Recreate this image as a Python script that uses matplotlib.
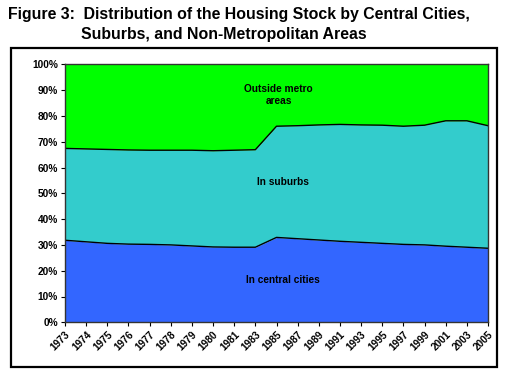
import numpy as np
import matplotlib
matplotlib.use("Agg")
import matplotlib.pyplot as plt
from matplotlib.patches import Rectangle

plt.rcParams['font.family'] = ['Liberation Sans', 'DejaVu Sans']

years = ['1973', '1974', '1975', '1976', '1977', '1978', '1979', '1980', '1981', '1983',
         '1985', '1987', '1989', '1991', '1993', '1995', '1997', '1999', '2001', '2003', '2005']
# share of housing stock, percent
central_cities = [31.8, 31.2, 30.6, 30.3, 30.2, 30.0, 29.6, 29.2, 29.1, 29.1,
                  32.9, 32.4, 31.9, 31.4, 31.0, 30.6, 30.2, 30.0, 29.5, 29.1, 28.7]
suburbs = [35.6, 36.0, 36.4, 36.5, 36.5, 36.7, 37.1, 37.3, 37.6, 37.8,
           43.1, 43.8, 44.6, 45.3, 45.5, 45.8, 45.8, 46.4, 48.6, 49.0, 47.5]
outside_metro = [32.6, 32.8, 33.0, 33.2, 33.3, 33.3, 33.3, 33.5, 33.3, 33.1,
                 24.0, 23.8, 23.5, 23.3, 23.5, 23.6, 24.0, 23.6, 21.9, 21.9, 23.8]

x = np.arange(len(years))
c1 = np.array(central_cities) / 100
c2 = c1 + np.array(suburbs) / 100
c3 = c2 + np.array(outside_metro) / 100

fig = plt.figure(figsize=(5.15, 3.82), dpi=100)
ax = fig.add_axes([65 / 515, 1 - 322.3 / 382, 423 / 515, 258 / 382])

ax.fill_between(x, 0, c1, color='#3366FF', lw=0)
ax.fill_between(x, c1, c2, color='#33CCCC', lw=0)
ax.fill_between(x, c2, c3, color='#00FF00', lw=0)
ax.plot(x, c1, color='black', lw=1)
ax.plot(x, c2, color='black', lw=1)

ax.set_xlim(0, len(years) - 1)
ax.set_ylim(0, 1)
ax.set_yticks(np.arange(0, 1.01, 0.1))
ax.set_yticklabels([f'{int(round(v * 100))}%' for v in np.arange(0, 1.01, 0.1)],
                   fontsize=7.3, fontweight='bold')
ax.set_xticks(x)
ax.set_xticklabels(years, rotation=45, ha='right', rotation_mode='anchor',
                   fontsize=7.3, fontweight='bold')
ax.tick_params(direction='out', length=3, width=0.8, pad=2)
for s in ax.spines.values():
    s.set_color('#333333')
    s.set_linewidth(1)

ax.text(10.1, 0.881, 'Outside metro\nareas', ha='center', va='center',
        fontsize=7.3, fontweight='bold', linespacing=1.2)
ax.text(10.3, 0.543, 'In suburbs', ha='center', va='center',
        fontsize=7.3, fontweight='bold')
ax.text(10.3, 0.164, 'In central cities', ha='center', va='center',
        fontsize=7.3, fontweight='bold')

fig.text(8 / 515, 1 - 15 / 382, 'Figure 3:  Distribution of the Housing Stock by Central Cities,',
         fontsize=11.4, fontweight='bold', va='center', ha='left')
fig.text(81 / 515, 1 - 34 / 382, 'Suburbs, and Non-Metropolitan Areas',
         fontsize=11.4, fontweight='bold', va='center', ha='left')

fig.patches.append(Rectangle((11 / 515, 1 - 367 / 382), 486 / 515, 319 / 382,
                             transform=fig.transFigure, fill=False,
                             edgecolor='black', lw=1.6))

fig.savefig('out.png', dpi=100)
